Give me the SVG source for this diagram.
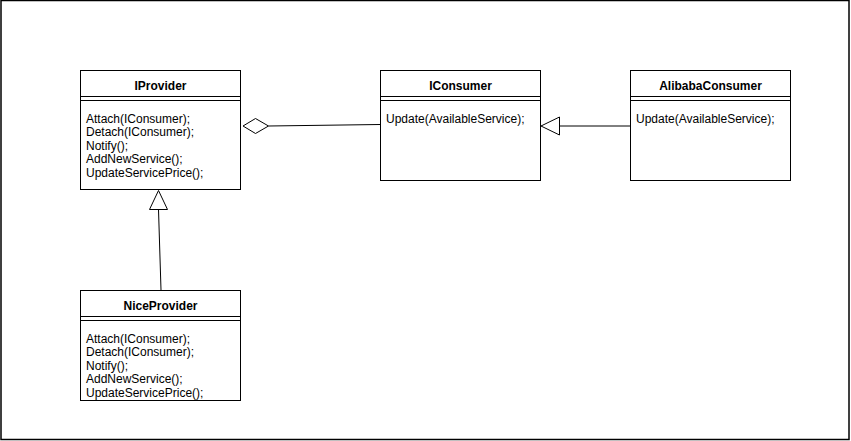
<svg xmlns="http://www.w3.org/2000/svg" width="851" height="441" viewBox="0 0 851 441">
<style>
.box{fill:#fff;stroke:#000;stroke-width:1}
.ln{stroke:#000;stroke-width:1;fill:none}
.t{font-family:"Liberation Sans",Arial,sans-serif;font-size:12px;fill:#000}
.b{font-weight:bold;text-anchor:middle}
</style>
<rect x="0" y="0" width="851" height="441" fill="#fff"/>
<rect x="1" y="0.5" width="848" height="439" fill="none" stroke="#000" stroke-width="1.5"/>
<g id="connectors">
<path class="ln" d="M268.5 126 L380 124.5"/>
<path class="ln" fill="#fff" d="M243 126 L255.5 118.5 L268.5 126 L255.5 133.5 Z" style="fill:#fff"/>
<path class="ln" d="M559.5 126 L630 126"/>
<path class="ln" d="M541 126 L559.5 117 L559.5 135 Z" style="fill:#fff"/>
<path class="ln" d="M161 290 L158.5 209.5"/>
<path class="ln" d="M158.5 190.5 L149.5 209.5 L167.5 209.5 Z" style="fill:#fff"/>
</g>
<g id="IProvider">
<rect class="box" x="80.5" y="70.5" width="160" height="119"/>
<path class="ln" d="M80.5 96.5 H240.5 M80.5 100.5 H240.5"/>
<text class="t b" x="160.5" y="89.5">IProvider</text>
<text class="t" x="86" y="122.5">Attach(IConsumer);</text>
<text class="t" x="86" y="136">Detach(IConsumer);</text>
<text class="t" x="86" y="149.5">Notify();</text>
<text class="t" x="86" y="163">AddNewService();</text>
<text class="t" x="86" y="176.5">UpdateServicePrice();</text>
</g>
<g id="IConsumer">
<rect class="box" x="380.5" y="70.5" width="160" height="110"/>
<path class="ln" d="M380.5 96.5 H540.5 M380.5 100.5 H540.5"/>
<text class="t b" x="460.5" y="89.5">IConsumer</text>
<text class="t" x="386" y="122.5">Update(AvailableService);</text>
</g>
<g id="AlibabaConsumer">
<rect class="box" x="630.5" y="70.5" width="160" height="110"/>
<path class="ln" d="M630.5 96.5 H790.5 M630.5 100.5 H790.5"/>
<text class="t b" x="710.5" y="89.5">AlibabaConsumer</text>
<text class="t" x="636" y="122.5">Update(AvailableService);</text>
</g>
<g id="NiceProvider">
<rect class="box" x="80.5" y="290.5" width="160" height="110"/>
<path class="ln" d="M80.5 316.5 H240.5 M80.5 320.5 H240.5"/>
<text class="t b" x="160.5" y="309.5">NiceProvider</text>
<text class="t" x="86" y="342.5">Attach(IConsumer);</text>
<text class="t" x="86" y="356">Detach(IConsumer);</text>
<text class="t" x="86" y="369.5">Notify();</text>
<text class="t" x="86" y="383">AddNewService();</text>
<text class="t" x="86" y="396.5">UpdateServicePrice();</text>
</g>
</svg>
